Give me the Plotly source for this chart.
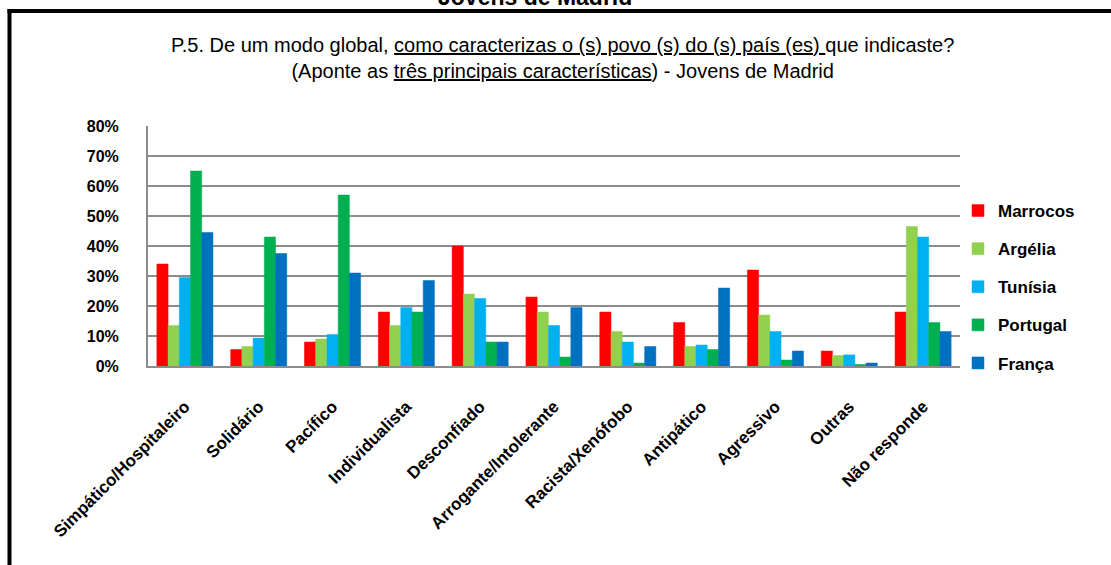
import plotly.graph_objects as go

# Characteristics attributed to each people (% of answers)
categories = [
    "Simpático/Hospitaleiro", "Solidário", "Pacífico", "Individualista",
    "Desconfiado", "Arrogante/Intolerante", "Racista/Xenófobo", "Antipático",
    "Agressivo", "Outras", "Não responde",
]
marrocos = [34, 5.5, 8, 18, 40, 23, 18, 14.5, 32, 5, 18]
argelia = [13.5, 6.5, 9, 13.5, 24, 18, 11.5, 6.5, 17, 3.5, 46.5]
tunisia = [29.5, 9.3, 10.5, 19.5, 22.5, 13.5, 8, 7, 11.5, 3.7, 43]
portugal = [65, 43, 57, 18, 8, 3, 1, 5.5, 2, 0.5, 14.5]
franca = [44.5, 37.5, 31, 28.5, 8, 19.5, 6.5, 26, 5, 1, 11.5]

series_names = ["Marrocos", "Argélia", "Tunísia", "Portugal", "França"]
series_values = [marrocos, argelia, tunisia, portugal, franca]
series_colors = ["#FF0000", "#92D050", "#00B0F0", "#00B050", "#0070C0"]
y_ticks = [0, 10, 20, 30, 40, 50, 60, 70, 80]
y_tick_text = [f"{v}%" for v in y_ticks]

W, H = 1111, 565
ML, MR, MT, MB = 148, 151, 126, 199
PW, PH = W - ML - MR, H - MT - MB


def px_x(x):
    return (x - ML) / PW


def px_y(y):
    return (H - MB - y) / PH


FONT = "Liberation Sans, Arial, sans-serif"

fig = go.Figure()
for name, vals, col in zip(series_names, series_values, series_colors):
    fig.add_trace(go.Bar(
        x=categories, y=vals, name=name, legendgroup=name,
        marker=dict(color=col, line=dict(color=col, width=0.5)),
    ))

fig.update_layout(
    width=W, height=H,
    margin=dict(l=ML, r=MR, t=MT, b=MB),
    paper_bgcolor="white", plot_bgcolor="white",
    barmode="group", bargap=0.24, bargroupgap=0,
    font=dict(family=FONT, color="black"),
    showlegend=True,
    legend=dict(
        x=px_x(958), y=px_y(193), xanchor="left", yanchor="top",
        font=dict(size=17, family=FONT, weight="bold"),
        tracegroupgap=13, itemwidth=30,
        bgcolor="rgba(0,0,0,0)",
    ),
    xaxis=dict(
        type="category", tickangle=-45,
        tickfont=dict(size=17, family=FONT, weight="bold"),
        showline=True, linecolor="#8c8c8c", linewidth=2,
        ticks="", ticklabelstandoff=22,
    ),
    yaxis=dict(
        range=[0, 80], tickvals=y_ticks, ticktext=y_tick_text,
        tickfont=dict(size=16, family=FONT, weight="bold"),
        showgrid=True, gridcolor="#8c8c8c", gridwidth=2,
        showline=True, linecolor="#8c8c8c", linewidth=2,
        zeroline=False, ticks="", ticklabelstandoff=24,
    ),
)

# Chart title (two lines, underlined parts)
fig.add_annotation(
    xref="paper", yref="paper", x=px_x(562), y=px_y(58),
    xanchor="center", yanchor="middle", showarrow=False,
    align="center",
    text=("P.5. De um modo global, <u>como caracterizas o (s) povo (s) do (s) país (es) </u>que indicaste?"
          "<br>(Aponte as <u>três principais características</u>) - Jovens de Madrid"),
    font=dict(size=20, family=FONT, color="black"),
)

# Heading of the page above the frame
fig.add_annotation(
    xref="paper", yref="paper", x=px_x(535), y=px_y(-3),
    xanchor="center", yanchor="middle", showarrow=False,
    text="<b>Jovens de Madrid</b>",
    font=dict(size=23, family=FONT, color="black"),
)

# Black frame around the chart (top and left edges)
fig.add_shape(type="line", xref="paper", yref="paper",
              x0=px_x(7.5), x1=px_x(1115), y0=px_y(11), y1=px_y(11),
              line=dict(color="black", width=4))
fig.add_shape(type="line", xref="paper", yref="paper",
              x0=px_x(9.5), x1=px_x(9.5), y0=px_y(9), y1=px_y(570),
              line=dict(color="black", width=4))

fig.write_html("out.html")
